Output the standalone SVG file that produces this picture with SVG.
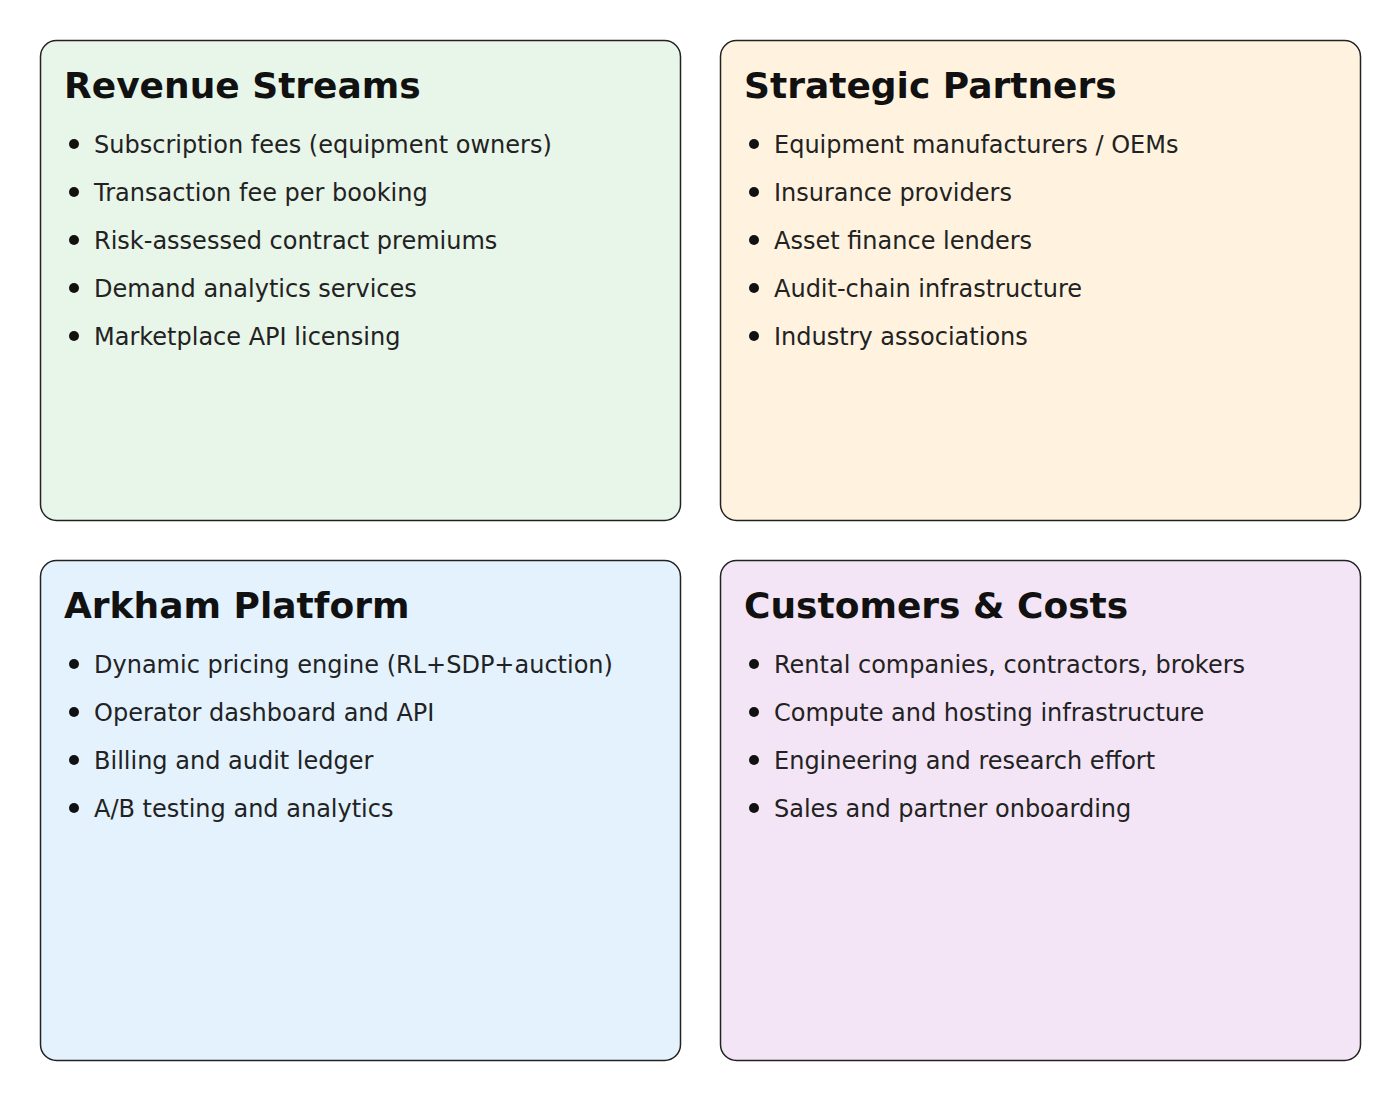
<svg xmlns="http://www.w3.org/2000/svg" width="1400" height="1100" viewBox="0 0 1400 1100">
<style>
.box{stroke:#222;stroke-width:1.5}
.t{font-family:"DejaVu Sans",sans-serif;font-weight:bold;font-size:36px;fill:#111}
.i{font-family:"DejaVu Sans",sans-serif;font-size:24px;fill:#222}
.b{fill:#111}
</style>
<rect width="1400" height="1100" fill="#fff"/>
<g id="revenue">
<rect class="box" x="40.5" y="40.5" width="640" height="480" rx="16" fill="#E8F5E9"/>
<text class="t" x="64" y="98">Revenue Streams</text>
<circle class="b" cx="74" cy="144" r="5"/><text class="i" x="94" y="153">Subscription fees (equipment owners)</text>
<circle class="b" cx="74" cy="192" r="5"/><text class="i" x="94" y="201">Transaction fee per booking</text>
<circle class="b" cx="74" cy="240" r="5"/><text class="i" x="94" y="249">Risk-assessed contract premiums</text>
<circle class="b" cx="74" cy="288" r="5"/><text class="i" x="94" y="297">Demand analytics services</text>
<circle class="b" cx="74" cy="336" r="5"/><text class="i" x="94" y="345">Marketplace API licensing</text>
</g>
<g id="partners">
<rect class="box" x="720.5" y="40.5" width="640" height="480" rx="16" fill="#FFF3E0"/>
<text class="t" x="744" y="98">Strategic Partners</text>
<circle class="b" cx="754" cy="144" r="5"/><text class="i" x="774" y="153">Equipment manufacturers / OEMs</text>
<circle class="b" cx="754" cy="192" r="5"/><text class="i" x="774" y="201">Insurance providers</text>
<circle class="b" cx="754" cy="240" r="5"/><text class="i" x="774" y="249">Asset finance lenders</text>
<circle class="b" cx="754" cy="288" r="5"/><text class="i" x="774" y="297">Audit-chain infrastructure</text>
<circle class="b" cx="754" cy="336" r="5"/><text class="i" x="774" y="345">Industry associations</text>
</g>
<g id="platform">
<rect class="box" x="40.5" y="560.5" width="640" height="500" rx="16" fill="#E3F2FD"/>
<text class="t" x="64" y="618">Arkham Platform</text>
<circle class="b" cx="74" cy="664" r="5"/><text class="i" x="94" y="673">Dynamic pricing engine (RL+SDP+auction)</text>
<circle class="b" cx="74" cy="712" r="5"/><text class="i" x="94" y="721">Operator dashboard and API</text>
<circle class="b" cx="74" cy="760" r="5"/><text class="i" x="94" y="769">Billing and audit ledger</text>
<circle class="b" cx="74" cy="808" r="5"/><text class="i" x="94" y="817">A/B testing and analytics</text>
</g>
<g id="customers">
<rect class="box" x="720.5" y="560.5" width="640" height="500" rx="16" fill="#F3E5F5"/>
<text class="t" x="744" y="618">Customers &amp; Costs</text>
<circle class="b" cx="754" cy="664" r="5"/><text class="i" x="774" y="673">Rental companies, contractors, brokers</text>
<circle class="b" cx="754" cy="712" r="5"/><text class="i" x="774" y="721">Compute and hosting infrastructure</text>
<circle class="b" cx="754" cy="760" r="5"/><text class="i" x="774" y="769">Engineering and research effort</text>
<circle class="b" cx="754" cy="808" r="5"/><text class="i" x="774" y="817">Sales and partner onboarding</text>
</g>
<g id="connectors"></g>
</svg>
